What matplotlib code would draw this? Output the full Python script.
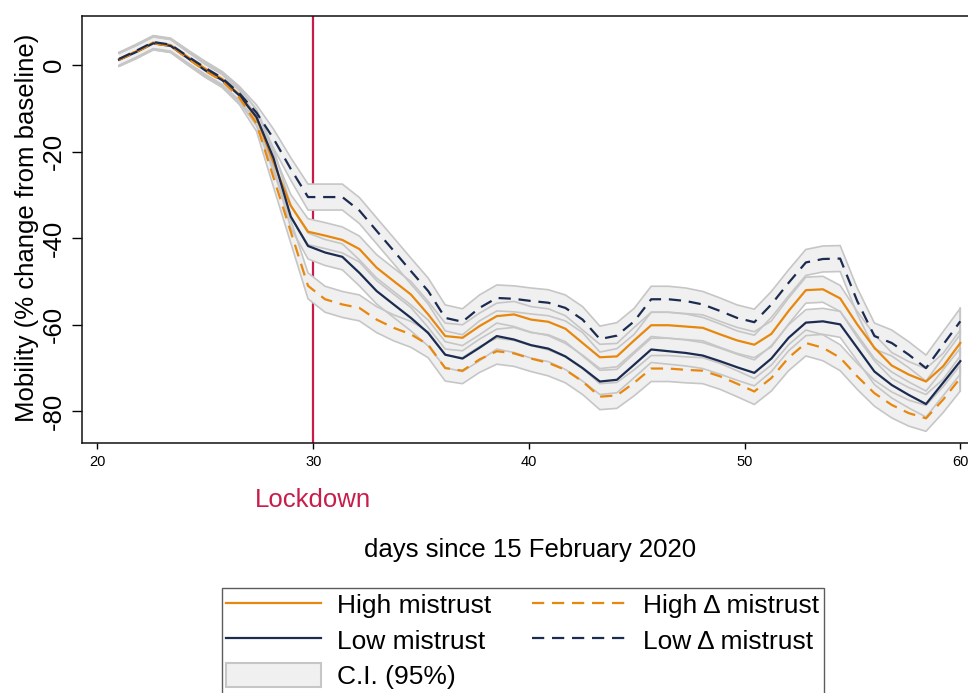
import matplotlib
matplotlib.use("Agg")
import matplotlib.pyplot as plt
from matplotlib.patches import Patch
from matplotlib.lines import Line2D
from matplotlib.transforms import blended_transform_factory

plt.rcParams['font.family'] = ['Liberation Sans', 'DejaVu Sans']

# ---------------- data ----------------
days = [21.00, 21.80, 22.59, 23.39, 24.18, 24.98, 25.78, 26.57, 27.37, 28.16,
        28.96, 29.76, 30.55, 31.35, 32.14, 32.94, 33.73, 34.53, 35.33, 36.12,
        36.92, 37.71, 38.51, 39.31, 40.10, 40.90, 41.69, 42.49, 43.29, 44.08,
        44.88, 45.67, 46.47, 47.27, 48.06, 48.86, 49.65, 50.45, 51.24, 52.04,
        52.84, 53.63, 54.43, 55.22, 56.02, 56.82, 57.61, 58.41, 59.20, 60.00]

high_mistrust = [1.4, 3.2, 5.2, 4.6, 1.9, -0.8, -3.2, -6.8, -12.2, -22.5,
                 -32.5, -38.5, -39.4, -40.4, -42.5, -46.8, -49.9, -53.0, -57.6, -62.6,
                 -63.0, -60.3, -58.0, -57.6, -58.8, -59.3, -60.9, -64.2, -67.5, -67.3,
                 -63.6, -60.1, -60.1, -60.4, -60.7, -62.2, -63.6, -64.6, -62.1, -56.8,
                 -52.0, -51.8, -53.9, -59.9, -65.3, -69.4, -71.5, -73.1, -69.6, -64.2]

low_mistrust = [1.2, 3.0, 5.0, 4.4, 1.6, -1.2, -3.5, -7.0, -12.0, -21.5,
                -35.0, -41.8, -43.3, -44.3, -48.0, -52.2, -55.3, -58.4, -61.9, -66.9,
                -67.8, -65.3, -62.6, -63.4, -64.7, -65.5, -67.3, -70.0, -73.1, -72.7,
                -69.2, -65.7, -66.1, -66.5, -67.1, -68.4, -69.8, -71.1, -67.8, -63.0,
                -59.5, -59.2, -59.9, -65.3, -70.8, -73.9, -76.2, -78.3, -73.4, -68.4]

high_delta_mistrust = [1.2, 3.0, 5.0, 4.4, 1.5, -1.3, -3.7, -7.5, -13.5, -26.0,
                       -38.5, -51.0, -54.1, -55.3, -56.1, -58.8, -60.7, -62.2, -64.6, -70.0,
                       -70.6, -68.0, -66.1, -66.6, -67.8, -68.8, -70.4, -73.1, -76.6, -76.3,
                       -73.4, -70.1, -70.1, -70.4, -70.6, -71.9, -73.6, -75.4, -72.3, -67.6,
                       -64.2, -65.3, -67.6, -71.9, -75.8, -78.5, -80.4, -81.6, -77.3, -72.3]

low_delta_mistrust = [1.4, 3.3, 5.3, 4.7, 2.0, -0.6, -3.0, -6.5, -11.0, -17.0,
                      -24.0, -30.5, -30.5, -30.5, -33.6, -38.3, -42.9, -47.6, -52.2, -58.4,
                      -59.3, -56.1, -53.8, -54.0, -54.5, -54.9, -56.1, -58.8, -63.3, -62.5,
                      -59.2, -54.1, -54.1, -54.5, -55.3, -56.8, -58.4, -59.4, -55.3, -50.3,
                      -45.6, -44.8, -44.7, -54.5, -62.6, -64.2, -66.9, -70.0, -64.6, -59.2]

# half-width of the 95% confidence interval
ci_half = [1.5, 1.5, 1.5, 1.5, 1.5, 1.5, 1.5, 1.6, 1.8, 2.2,
           2.6, 3.0, 3.0, 3.0, 3.0, 3.0, 3.0, 3.0, 3.0, 3.0,
           3.0, 3.0, 3.0, 3.0, 3.0, 3.0, 3.0, 3.0, 3.0, 3.0,
           3.0, 3.0, 3.0, 3.0, 3.0, 3.0, 3.0, 3.0, 3.0, 3.0,
           3.0, 3.0, 3.0, 3.0, 3.0, 3.0, 3.0, 3.0, 3.0, 3.0]

x_ticks = [20, 30, 40, 50, 60]
y_ticks = [0, -20, -40, -60, -80]
lockdown_day = 30

series_labels = ["High mistrust", "Low mistrust", "High \u0394 mistrust", "Low \u0394 mistrust"]

# ---------------- style ----------------
ORANGE = '#e8870e'
NAVY = '#1c2b50'
RED = '#c81d4b'
BAND_FILL = '#f0f0f0'
BAND_EDGE = '#c6c6c6'
FS = 18.5
LEG_FS = 19

W, H = 968, 693
fig = plt.figure(figsize=(W / 100, H / 100), dpi=100)
ax_left, ax_right, ax_top, ax_bot = 82, 975, 16, 443
ax = fig.add_axes([ax_left / W, 1 - ax_bot / H, (ax_right - ax_left) / W, (ax_bot - ax_top) / H])

series = [
    (high_mistrust, ORANGE, '-'),
    (low_mistrust, NAVY, '-'),
    (high_delta_mistrust, ORANGE, '--'),
    (low_delta_mistrust, NAVY, '--'),
]

ax.axvline(lockdown_day, color=RED, lw=1.6, zorder=0.5)

for vals, col, ls in series:
    lo = [v - h for v, h in zip(vals, ci_half)]
    hi = [v + h for v, h in zip(vals, ci_half)]
    ax.fill_between(days, lo, hi, facecolor=BAND_FILL, edgecolor='none', zorder=1)
for vals, col, ls in series:
    lo = [v - h for v, h in zip(vals, ci_half)]
    hi = [v + h for v, h in zip(vals, ci_half)]
    ax.plot(days + days[::-1], hi + lo[::-1], color=BAND_EDGE, lw=1.2, zorder=2)
    ax.plot([days[-1], days[-1]], [lo[-1], hi[-1]], color=BAND_EDGE, lw=1.2, zorder=2)

for vals, col, ls in series:
    if ls == '--':
        ax.plot(days, vals, color=col, lw=1.6, linestyle=(0, (5.5, 3.5)), zorder=3)
    else:
        ax.plot(days, vals, color=col, lw=1.6, zorder=3)

# axes range
px_per_day = 21.57
px_per_unit = 4.33
ax.set_xlim(20 + (ax_left - 97.5) / px_per_day, 20 + (ax_right - 97.5) / px_per_day)
ax.set_ylim(-(ax_bot - 65) / px_per_unit, (65 - ax_top) / px_per_unit)

for s in ['left', 'bottom', 'top', 'right']:
    ax.spines[s].set_linewidth(1.1)
    ax.spines[s].set_color('#111111')

ax.set_xticks(x_ticks)
ax.set_xticklabels([str(t) for t in x_ticks], fontsize=10.5,
                   family=['Liberation Sans Narrow', 'Liberation Sans'])
ax.tick_params(axis='x', direction='out', length=4.5, width=1.0, pad=4)

ax.set_yticks(y_ticks)
ax.set_yticklabels([str(t) for t in y_ticks], fontsize=FS, rotation=90,
                   va='center', ha='center')
ax.tick_params(axis='y', direction='out', length=7, width=1.0, pad=13)

# texts
tr = blended_transform_factory(ax.transData, fig.transFigure)
ax.text(lockdown_day, 1 - 500 / H, "Lockdown", color=RED, fontsize=FS,
        ha='center', va='center', transform=tr)
fig.text(530 / W, 1 - 550 / H, "days since 15 February 2020", fontsize=FS,
         ha='center', va='center')
fig.text(27 / W, 1 - 228 / H, "Mobility (% change from baseline)", fontsize=FS,
         rotation=90, ha='center', va='center')

# legend
handles = [
    Line2D([], [], color=ORANGE, lw=1.6),
    Line2D([], [], color=NAVY, lw=1.6),
    Patch(facecolor=BAND_FILL, edgecolor=BAND_EDGE, lw=1.5),
    Line2D([], [], color=ORANGE, lw=1.6, linestyle=(0, (5.5, 3.5))),
    Line2D([], [], color=NAVY, lw=1.6, linestyle=(0, (5.5, 3.5))),
]
labels = [series_labels[0], series_labels[1], "C.I. (95%)", series_labels[2], series_labels[3]]
leg = fig.legend(handles, labels, loc='upper left', bbox_to_anchor=(222 / W, 1 - 588 / H),
                 bbox_transform=fig.transFigure, ncol=2, fontsize=LEG_FS, frameon=True,
                 fancybox=False, borderaxespad=0, handlelength=3.6, handleheight=1.0,
                 handletextpad=0.6, columnspacing=1.55, labelspacing=0.36, borderpad=0.17)
leg.get_frame().set_edgecolor('#333333')
leg.get_frame().set_linewidth(1.0)

fig.savefig("out.png", dpi=100)
